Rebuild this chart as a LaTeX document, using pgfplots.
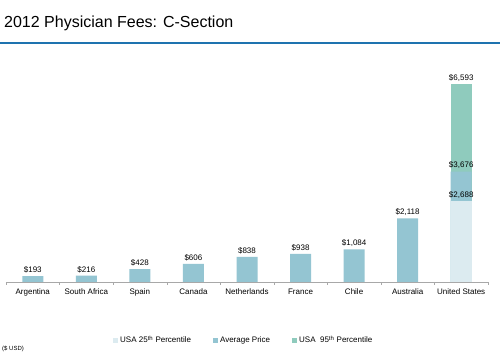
\documentclass[border=0pt]{standalone}
\usepackage{pgfplots}
\pgfplotsset{compat=1.18}
\usepackage{fontspec}
\setmainfont{Liberation Sans}
\definecolor{cLow}{HTML}{DCEBF0}
\definecolor{cAvg}{HTML}{94C5D2}
\definecolor{cHigh}{HTML}{8FCBBD}
\definecolor{cLine}{RGB}{30,115,175}
\definecolor{cAxis}{HTML}{A8A8A8}
\begin{document}
\begin{tikzpicture}
\path[use as bounding box] (0,0) rectangle (500pt,355pt);
\fill[white] (0,0) rectangle (500pt,355pt);
\node[anchor=base west,inner sep=0pt,font=\fontsize{16}{19}\selectfont] at (4pt,327pt) {2012 Physician Fees: C-Section};
\draw[cLine,line width=1.5pt] (0pt,312pt) -- (500pt,312pt);
\node[anchor=west,inner sep=0pt,font=\fontsize{6}{7}\selectfont] at (2pt,6pt) {(\$ USD)};
\begin{axis}[
  at={(6pt,73pt)}, anchor=south west,
  scale only axis, width=482pt, height=210.2pt,
  xmin=-0.5, xmax=8.5, ymin=0, ymax=7000,
  enlargelimits=false, clip=false,
  axis y line=none, axis x line*=bottom,
  x axis line style={-, cAxis},
  xtick={0,...,8},
  xticklabels={Argentina,South Africa,Spain,Canada,Netherlands,France,Chile,Australia,United States},
  major tick length=0pt,
  minor xtick={-0.5,0.5,...,8.5},
  minor tick length=3pt, tick align=outside,
  minor tick style={cAxis},
  xticklabel style={font=\fontsize{8}{9}\selectfont, yshift=-3pt},
  /pgf/number format/assume math mode=true,
  ybar, bar width=21pt, bar shift=0pt,
  nodes near coords={\$\pgfmathprintnumber[1000 sep={,},fixed,precision=0]{\pgfplotspointmeta}},
  every node near coord/.append style={font=\fontsize{8}{9}\selectfont, black, inner sep=2.5pt},
  legend style={at={(axis description cs:0.222,-0.276)}, anchor=west, draw=none, fill=none, inner sep=0pt,
    font=\fontsize{8}{9}\selectfont, legend columns=3,
    /tikz/every even column/.append style={column sep=20pt}},
  reverse legend,
]
\addplot[fill=cHigh, draw=none, legend image code/.code={\fill[cHigh] (0pt,-2.5pt) rectangle (5pt,2.5pt);}] coordinates {(8,6593)};
\addplot[fill=cAvg, draw=none, legend image code/.code={\fill[cAvg] (0pt,-2.5pt) rectangle (5pt,2.5pt);}] coordinates {(0,193) (1,216) (2,428) (3,606) (4,838) (5,938) (6,1084) (7,2118) (8,3676)};
\addplot[fill=cLow, draw=none, legend image code/.code={\fill[cLow] (0pt,-2.5pt) rectangle (5pt,2.5pt);}] coordinates {(8,2688)};
\legend{USA\ \ 95\textsuperscript{th} Percentile, Average Price, USA 25\textsuperscript{th} Percentile}
\end{axis}
\end{tikzpicture}
\end{document}
